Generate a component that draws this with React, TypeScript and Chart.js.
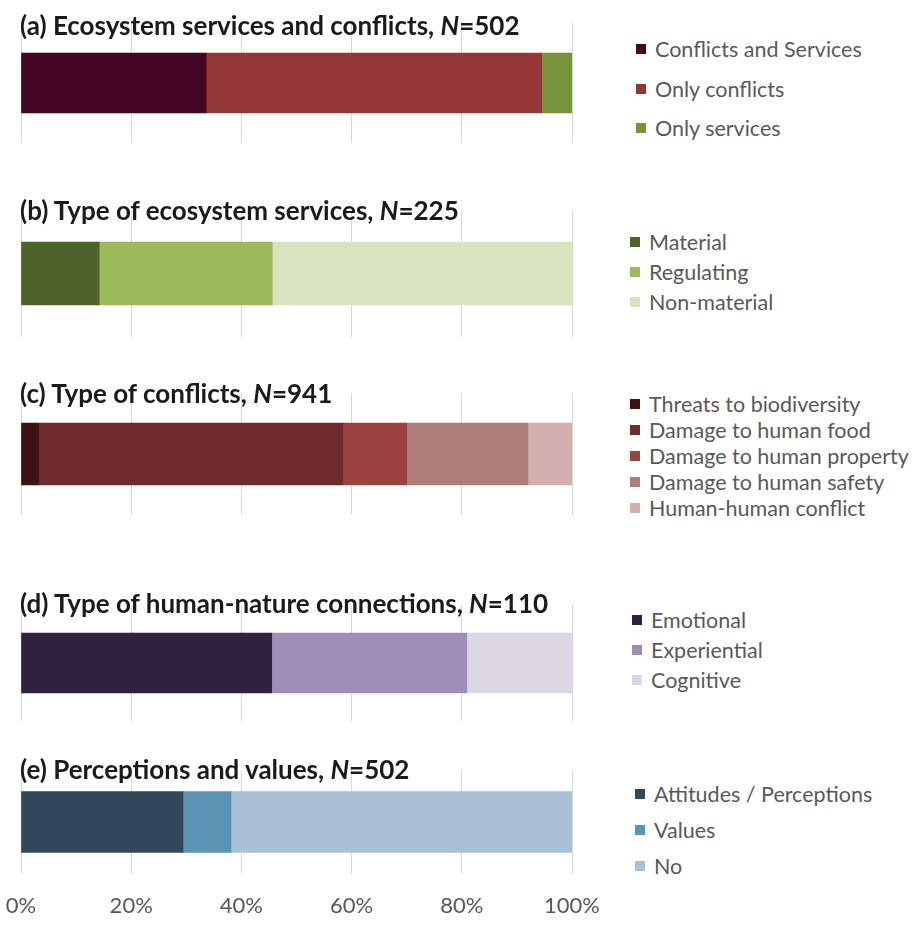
import React, { useEffect, useRef } from 'react';
import { Chart, registerables } from 'chart.js';

Chart.register(...registerables);

const FONT = 'Lato, "Open Sans", sans-serif';

// ---- data ----
const panelLetters = ['a', 'b', 'c', 'd', 'e'];
const panelTitles = [
  'Ecosystem services and conflicts',
  'Type of ecosystem services',
  'Type of conflicts',
  'Type of human-nature connections',
  'Perceptions and values',
];
const panelN = [502, 225, 941, 110, 502];

const aLabels = ['Conflicts and Services', 'Only conflicts', 'Only services'];
const aValues = [33.6, 60.9, 5.5];
const aColors = ['#440424', '#943634', '#77933c'];

const bLabels = ['Material', 'Regulating', 'Non-material'];
const bValues = [14.2, 31.4, 54.4];
const bColors = ['#4f6228', '#9bbb59', '#d7e4bd'];

const cLabels = [
  'Threats to biodiversity',
  'Damage to human food',
  'Damage to human property',
  'Damage to human safety',
  'Human-human conflict',
];
const cValues = [3.2, 55.2, 11.6, 22.0, 8.0];
const cColors = ['#3e1315', '#6e2a2c', '#9a4240', '#b17d7b', '#d2afae'];

const dLabels = ['Emotional', 'Experiential', 'Cognitive'];
const dValues = [45.5, 35.4, 19.1];
const dColors = ['#30223f', '#9f8cb7', '#dcd7e5'];

const eLabels = ['Attitudes / Perceptions', 'Values', 'No'];
const eValues = [29.4, 8.7, 61.9];
const eColors = ['#31475a', '#5a93b3', '#a8c1d3'];

const xTicks = [0, 20, 40, 60, 80, 100];

// ---- layout (page pixels) ----
const layouts = [
  { titleY: 25, barTop: 53, barBottom: 113, margin: 30, legendX: 636, legendY: [49, 89, 128] },
  { titleY: 210, barTop: 242, barBottom: 305, margin: 32, legendX: 630, legendY: [242, 272, 302] },
  { titleY: 393, barTop: 423, barBottom: 485, margin: 30, legendX: 630, legendY: [404, 430, 456, 482, 508] },
  { titleY: 603, barTop: 633, barBottom: 693, margin: 28, legendX: 632, legendY: [620, 650, 680] },
  { titleY: 769, barTop: 801, barBottom: 862, margin: 31, legendX: 635, legendY: [794, 830, 866] },
];

const allLabels = [aLabels, bLabels, cLabels, dLabels, eLabels];
const allValues = [aValues, bValues, cValues, dValues, eValues];
const allColors = [aColors, bColors, cColors, dColors, eColors];

const CANVAS_W = 620;
const AREA_LEFT = 21;
const AREA_RIGHT = 572;
const TICK_FONT = 22;
const TICK_PAD = 19;
const TICK_SPACE = TICK_PAD + TICK_FONT * 1.2 + 2;

function Panel({ idx }: { idx: number }) {
  const ref = useRef<HTMLCanvasElement | null>(null);
  const lay = layouts[idx];
  const last = idx === layouts.length - 1;
  const areaTop = lay.barTop - lay.margin;
  const areaH = lay.barBottom - lay.barTop + 2 * lay.margin;
  const canvasH = Math.round(areaH + (last ? TICK_SPACE : 0));

  useEffect(() => {
    if (!ref.current) return;
    const labels = allLabels[idx];
    const values = allValues[idx];
    const colors = allColors[idx];
    const chart = new Chart(ref.current, {
      type: 'bar',
      data: {
        labels: [''],
        datasets: labels.map((l, i) => ({
          label: l,
          data: [values[i]],
          backgroundColor: colors[i],
          borderWidth: 0,
          barThickness: lay.barBottom - lay.barTop,
          stack: 's',
        })),
      },
      options: {
        indexAxis: 'y',
        animation: false,
        responsive: false,
        maintainAspectRatio: false,
        events: [],
        layout: {
          padding: {
            left: AREA_LEFT,
            right: CANVAS_W - AREA_RIGHT,
            top: 0,
            bottom: last ? canvasH - areaH - TICK_PAD - TICK_FONT * 1.2 : 0,
          },
        },
        plugins: {
          legend: { display: false },
          title: { display: false },
          tooltip: { enabled: false },
        },
        scales: {
          x: {
            stacked: true,
            min: 0,
            max: 100,
            afterBuildTicks: (scale: any) => {
              scale.ticks = xTicks.map((v) => ({ value: v }));
            },
            afterFit: (scale: any) => {
              scale.paddingLeft = 0;
              scale.paddingRight = 0;
            },
            ticks: {
              display: last,
              callback: (v: any) => v + '%',
              color: '#595959',
              font: { family: FONT, size: TICK_FONT },
              padding: TICK_PAD,
              maxRotation: 0,
              autoSkip: false,
            },
            grid: { color: '#d9d9d9', lineWidth: 1, drawTicks: false },
            border: { display: false },
          },
          y: {
            stacked: true,
            display: false,
            grid: { display: false },
          },
        },
      },
    });
    return () => chart.destroy();
  }, [idx]);

  const labels = allLabels[idx];
  const colors = allColors[idx];

  return (
    <>
      <canvas
        ref={ref}
        width={CANVAS_W}
        height={canvasH}
        style={{ position: 'absolute', left: 0, top: areaTop, width: CANVAS_W, height: canvasH }}
      />
      <div
        style={{
          position: 'absolute',
          left: 20,
          top: lay.titleY - 16,
          fontFamily: FONT,
          fontWeight: 700,
          fontSize: 26,
          lineHeight: '32px',
          color: '#1a1a1a',
          whiteSpace: 'nowrap',
        }}
      >
        ({panelLetters[idx]}) {panelTitles[idx]}, <i>N</i>={panelN[idx]}
      </div>
      {labels.map((l, i) => (
        <div key={l}>
          <div
            style={{
              position: 'absolute',
              left: lay.legendX,
              top: lay.legendY[i] - 5,
              width: 10,
              height: 10,
              background: colors[i],
            }}
          />
          <div
            style={{
              position: 'absolute',
              left: lay.legendX + 19,
              top: lay.legendY[i] - 13,
              fontFamily: FONT,
              fontSize: 21.5,
              lineHeight: '26px',
              color: '#595959',
              whiteSpace: 'nowrap',
            }}
          >
            {l}
          </div>
        </div>
      ))}
    </>
  );
}

export default function App() {
  return (
    <div style={{ position: 'absolute', left: 0, top: 0, width: 921, height: 936, background: '#fff', overflow: 'hidden' }}>
      {layouts.map((_, i) => (
        <Panel key={i} idx={i} />
      ))}
    </div>
  );
}
